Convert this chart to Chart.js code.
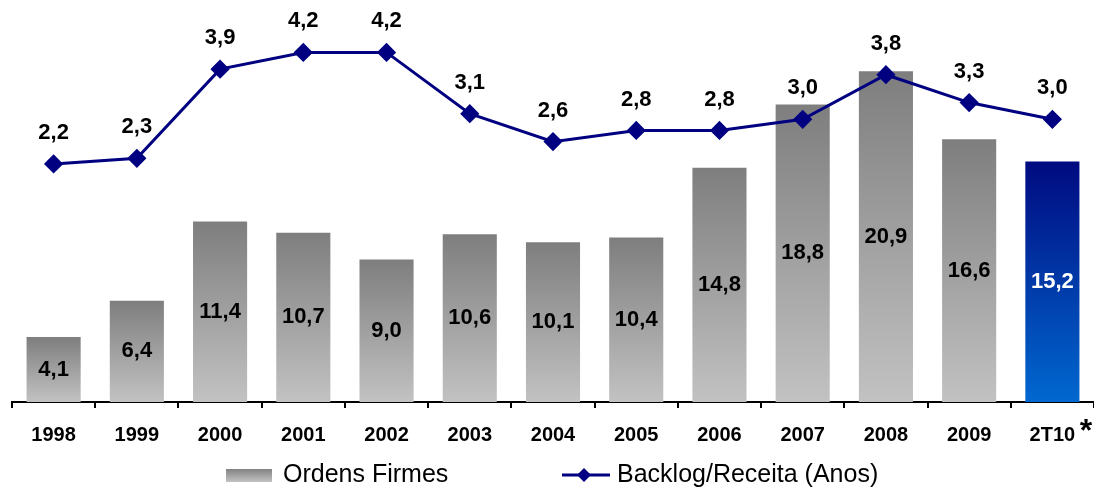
<!DOCTYPE html>
<html lang="pt">
<head>
<meta charset="UTF-8">
<title>Ordens Firmes e Backlog/Receita</title>
<script src="https://cdn.jsdelivr.net/npm/chart.js@4"></script>
<style>
  html, body { margin: 0; padding: 0; background: #fff; }
  #wrap { width: 1094px; height: 491px; position: relative; }
</style>
</head>
<body>
<div id="wrap"><canvas id="chart"></canvas></div>
<script>
  // data
  const categories = ['1998', '1999', '2000', '2001', '2002', '2003', '2004', '2005', '2006', '2007', '2008', '2009', '2T10'];
  const ordensFirmes = [4.1, 6.4, 11.4, 10.7, 9.0, 10.6, 10.1, 10.4, 14.8, 18.8, 20.9, 16.6, 15.2];
  const backlogReceita = [2.2, 2.3, 3.9, 4.2, 4.2, 3.1, 2.6, 2.8, 2.8, 3.0, 3.8, 3.3, 3.0];

  const FONT = "'Liberation Sans', Arial, sans-serif";
  const NAVY = '#000080';

  const fmt = v => v.toFixed(1).replace('.', ',');

  // each bar gets its own vertical gradient, last one is blue
  const barFill = (ctx) => {
    const chart = ctx.chart;
    const area = chart.chartArea;
    if (!area || ctx.dataIndex === undefined) return '#a0a0a0';
    const y = chart.scales.y;
    const top = y.getPixelForValue(ctx.raw);
    const bottom = y.getPixelForValue(0);
    const g = chart.ctx.createLinearGradient(0, top, 0, bottom);
    if (ctx.dataIndex === categories.length - 1) {
      g.addColorStop(0, '#000a80');
      g.addColorStop(1, '#0068d0');
    } else {
      g.addColorStop(0, '#7e7e7e');
      g.addColorStop(1, '#c2c2c2');
    }
    return g;
  };

  const labelsPlugin = {
    id: 'valueLabels',
    afterDatasetsDraw(chart) {
      const c = chart.ctx;
      c.save();
      c.textAlign = 'center';
      c.textBaseline = 'middle';
      c.font = 'bold 22px ' + FONT;
      const bars = chart.getDatasetMeta(1).data;
      bars.forEach((el, i) => {
        c.fillStyle = i === categories.length - 1 ? '#ffffff' : '#000000';
        c.fillText(fmt(ordensFirmes[i]), el.x, (el.y + el.base) / 2);
      });
      const pts = chart.getDatasetMeta(0).data;
      c.fillStyle = '#000000';
      pts.forEach((el, i) => {
        c.fillText(fmt(backlogReceita[i]), el.x, el.y - 31);
      });
      c.restore();
    },
    afterDraw(chart) {
      const c = chart.ctx;
      c.save();
      // asterisk on 2T10
      c.font = 'bold 32px ' + FONT;
      c.fillStyle = '#000';
      c.textAlign = 'center';
      c.textBaseline = 'alphabetic';
      c.fillText('*', 1086, 441);

      // legend
      const ly = 475;
      c.textAlign = 'left';
      c.textBaseline = 'middle';
      const g = c.createLinearGradient(0, ly - 7, 0, ly + 7);
      g.addColorStop(0, '#7e7e7e');
      g.addColorStop(1, '#c2c2c2');
      c.fillStyle = g;
      c.fillRect(226, ly - 6, 46, 13);
      c.fillStyle = '#000';
      c.font = '25px ' + FONT;
      c.fillText('Ordens Firmes', 283, ly);

      c.strokeStyle = NAVY;
      c.lineWidth = 3;
      c.beginPath();
      c.moveTo(562, ly);
      c.lineTo(610, ly);
      c.stroke();
      c.fillStyle = NAVY;
      c.beginPath();
      c.moveTo(584, ly - 7);
      c.lineTo(591, ly);
      c.lineTo(584, ly + 7);
      c.lineTo(577, ly);
      c.closePath();
      c.fill();
      c.fillStyle = '#000';
      c.fillText('Backlog/Receita (Anos)', 617, ly);
      c.restore();
    }
  };

  new Chart(document.getElementById('chart'), {
    data: {
      labels: categories,
      datasets: [
        {
          type: 'line',
          label: 'Backlog/Receita (Anos)',
          data: backlogReceita,
          yAxisID: 'y1',
          borderColor: NAVY,
          backgroundColor: NAVY,
          borderWidth: 3,
          pointStyle: 'rectRot',
          pointRadius: 7.5,
          pointHoverRadius: 7.5,
          tension: 0,
          order: 0,
          clip: false
        },
        {
          type: 'bar',
          label: 'Ordens Firmes',
          data: ordensFirmes,
          yAxisID: 'y',
          backgroundColor: barFill,
          categoryPercentage: 1,
          barPercentage: 0.65,
          order: 1
        }
      ]
    },
    options: {
      responsive: true,
      maintainAspectRatio: false,
      animation: false,
      layout: { autoPadding: false, padding: { left: 12, right: 0, top: 0, bottom: 0 } },
      plugins: {
        legend: { display: false },
        tooltip: { enabled: false }
      },
      scales: {
        x: {
          offset: true,
          grid: {
            display: true,
            drawOnChartArea: false,
            drawTicks: true,
            tickLength: 6,
            color: '#000',
            lineWidth: 2,
            offset: true
          },
          border: { display: true, color: '#000', width: 2 },
          ticks: {
            color: '#000',
            font: { family: FONT, size: 20, weight: 'bold' },
            padding: 15,
            maxRotation: 0
          },
          afterFit(scale) { scale.height = 89; }
        },
        y: {
          display: false,
          min: 0,
          max: 25.4
        },
        y1: {
          display: false,
          position: 'right',
          min: -2.07,
          max: 5.14
        }
      }
    },
    plugins: [labelsPlugin]
  });
</script>
</body>
</html>
